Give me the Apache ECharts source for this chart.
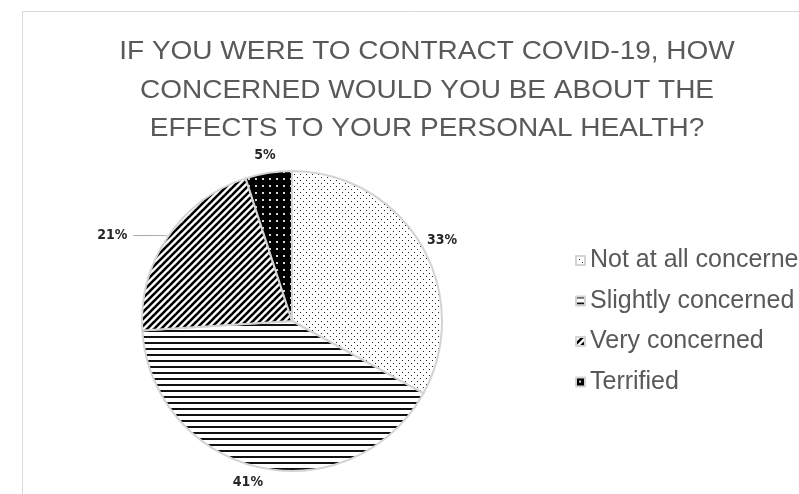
<!DOCTYPE html>
<html>
<head>
<meta charset="utf-8">
<script src="https://cdn.jsdelivr.net/npm/echarts@6/dist/echarts.min.js"></script>
<style>
  html, body { margin: 0; padding: 0; background: #ffffff; }
  #chart { width: 799px; height: 494px; }
</style>
</head>
<body>
<div id="chart"></div>
<script>
// Survey answers and their shares (percent of respondents)
const categories = ['Not at all concerned', 'Slightly concerned', 'Very concerned', 'Terrified'];
const shares = [33, 41, 21, 5];
const titleLines = [
  'IF YOU WERE TO CONTRACT COVID-19, HOW',
  'CONCERNED WOULD YOU BE ABOUT THE',
  'EFFECTS TO YOUR PERSONAL HEALTH?'
];

// --- fill patterns, one per slice -------------------------------------
function makeTile(w, h, draw) {
  const c = document.createElement('canvas');
  c.width = w; c.height = h;
  const ctx = c.getContext('2d');
  draw(ctx, w, h);
  return { image: c, repeat: 'repeat' };
}

const dotsLight = makeTile(6, 6, (ctx, w, h) => {
  ctx.fillStyle = '#ffffff'; ctx.fillRect(0, 0, w, h);
  ctx.fillStyle = '#222222';
  ctx.fillRect(0, 0, 1, 1);
  ctx.fillRect(3, 3, 1, 1);
});

const horizontalLines = makeTile(6, 6, (ctx, w, h) => {
  ctx.fillStyle = '#ffffff'; ctx.fillRect(0, 0, w, h);
  ctx.fillStyle = '#111111';
  ctx.fillRect(0, 0, w, 2);
});

const diagonalStripes = makeTile(7, 7, (ctx, w, h) => {
  ctx.fillStyle = '#ffffff'; ctx.fillRect(0, 0, w, h);
  ctx.strokeStyle = '#000000';
  ctx.lineWidth = 2.6;
  for (let k = -1; k <= 1; k++) {
    ctx.beginPath();
    ctx.moveTo(k * w - 1, h + 1);
    ctx.lineTo(k * w + w + 1, -1);
    ctx.stroke();
  }
});

const darkDots = makeTile(7, 7, (ctx, w, h) => {
  ctx.fillStyle = '#000000'; ctx.fillRect(0, 0, w, h);
  ctx.fillStyle = '#d8d8d8';
  ctx.fillRect(3, 3, 2, 2);
});

const slicePatterns = [dotsLight, horizontalLines, diagonalStripes, darkDots];

// label placement around the pie (line lengths, text offset, leader visibility)
const labelPlacement = [
  { len: 8,  len2: 0,  gap: -1,  line: false },
  { len: 15, len2: 0,  gap: -7,  line: false },
  { len: 2,  len2: 33, gap: 6,   line: true  },
  { len: 18, len2: 0,  gap: -10, line: false }
];

const pieData = categories.map((name, i) => ({
  name: name,
  value: shares[i],
  itemStyle: { color: slicePatterns[i] },
  label: { distanceToLabelLine: labelPlacement[i].gap },
  labelLine: {
    show: labelPlacement[i].line,
    length: labelPlacement[i].len,
    length2: labelPlacement[i].len2
  }
}));

const chart = echarts.init(document.getElementById('chart'), null, { renderer: 'canvas' });

chart.setOption({
  backgroundColor: '#ffffff',
  animation: false,
  graphic: [
    {
      type: 'rect',
      silent: true,
      shape: { x: 22.5, y: 11.5, width: 1000, height: 1000 },
      style: { fill: 'none', stroke: '#d9d9d9', lineWidth: 1 }
    },
    {
      // chart title, slightly widened
      type: 'text',
      silent: true,
      x: 427,
      y: 33,
      scaleX: 1.077,
      style: {
        text: titleLines.join('\n'),
        align: 'center',
        verticalAlign: 'top',
        fill: '#595959',
        fontFamily: '"Liberation Sans", Arial, sans-serif',
        fontSize: 26,
        lineHeight: 38.5
      }
    }
  ],
  legend: {
    orient: 'vertical',
    left: 570,
    top: 243,
    itemWidth: 9,
    itemHeight: 9,
    itemGap: 15.5,
    icon: 'rect',
    textStyle: {
      color: '#595959',
      fontFamily: '"Liberation Sans", Arial, sans-serif',
      fontSize: 25,
      lineHeight: 25
    },
    data: categories
  },
  series: [{
    type: 'pie',
    center: [292, 321],
    radius: 150,
    startAngle: 90,
    clockwise: true,
    avoidLabelOverlap: false,
    itemStyle: { borderColor: '#d4d4d4', borderWidth: 2 },
    label: {
      show: true,
      position: 'outside',
      formatter: '{c}%',
      color: '#262626',
      fontFamily: '"Liberation Sans Narrow", "DejaVu Sans Condensed", sans-serif',
      fontWeight: 'bold',
      fontSize: 14
    },
    labelLine: {
      lineStyle: { color: '#a6a6a6', width: 1 },
      smooth: 0.2
    },
    emphasis: { disabled: true },
    data: pieData
  }]
});
</script>
</body>
</html>
